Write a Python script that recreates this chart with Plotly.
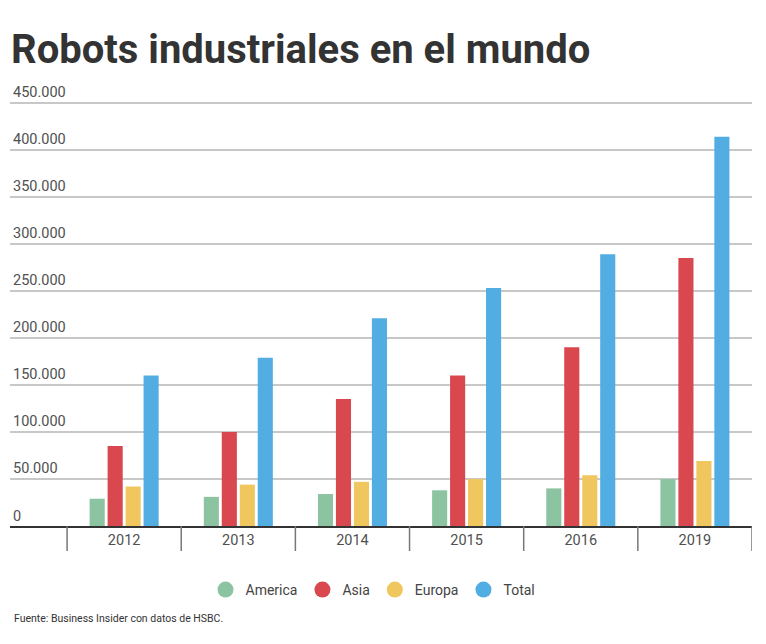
import plotly.graph_objects as go

# Robots industriales por región (unidades)
years = ["2012", "2013", "2014", "2015", "2016", "2019"]
america = [29000, 31000, 34000, 38000, 40000, 50000]
asia = [85000, 100000, 135000, 160000, 190000, 285000]
europa = [42000, 44000, 47000, 50000, 54000, 69000]
total = [160000, 179000, 221000, 253000, 289000, 414000]

series_names = ["America", "Asia", "Europa", "Total"]
series_colors = ["#8cc4a1", "#d9484e", "#f0c75f", "#52ade2"]

y_ticks = [0, 50000, 100000, 150000, 200000, 250000, 300000, 350000, 400000, 450000]
y_max = 452000

TITLE = "Robots industriales en el mundo"
SOURCE = "Fuente: Business Insider con datos de HSBC."

FONT = "Roboto, 'Open Sans', sans-serif"

M_TOP, M_BOTTOM, M_LEFT, M_RIGHT = 101, 118, 10, 14
W, H = 766, 644
plot_h = H - M_TOP - M_BOTTOM
plot_w = W - M_LEFT - M_RIGHT
base_y = H - M_BOTTOM  # pixel row of the zero line

fig = go.Figure()

for name, vals, color in zip(series_names, [america, asia, europa, total], series_colors):
    fig.add_trace(go.Bar(
        x=years, y=vals, name=name, marker_color=color,
        marker_line_width=0, showlegend=False,
    ))

# circular legend markers
for name, color in zip(series_names, series_colors):
    fig.add_trace(go.Scatter(
        x=[None], y=[None], mode="markers", name=name,
        marker=dict(symbol="circle", size=17, color=color),
    ))


def fmt(v):
    return f"{v:,}".replace(",", ".")


# y tick labels sit above their grid lines
annotations = []
for v in y_ticks:
    annotations.append(dict(
        x=0, xref="paper", y=v, yref="y", text=fmt(v),
        xanchor="left", yanchor="middle", yshift=10, xshift=1,
        showarrow=False, font=dict(family=FONT, size=14.5, color="#505050"),
    ))

annotations.append(dict(
    x=(12 - M_LEFT) / plot_w, xref="paper",
    y=(base_y - 618) / plot_h, yref="paper",
    text=SOURCE, xanchor="left", yanchor="middle", showarrow=False,
    font=dict(family=FONT, size=10.5, color="#333333"),
))

# category separators under the axis
shapes = []
for i in range(len(years) + 1):
    shapes.append(dict(
        type="line", xref="x", yref="paper",
        x0=i - 0.5, x1=i - 0.5, y0=0, y1=-25 / plot_h,
        line=dict(color="#777777", width=1.5),
    ))

fig.update_layout(
    width=W, height=H,
    margin=dict(l=M_LEFT, r=M_RIGHT, t=M_TOP, b=M_BOTTOM),
    paper_bgcolor="white", plot_bgcolor="white",
    barmode="group", bargap=0.37, bargroupgap=0.16,
    title=dict(
        text=f"<b>{TITLE}</b>", x=11 / W, xanchor="left", xref="container",
        y=1 - 49 / H, yanchor="middle", yref="container",
        font=dict(family=FONT, size=40, color="#333333"),
    ),
    xaxis=dict(
        type="category", range=[-1, 5.5], showgrid=False,
        showline=True, linecolor="#333333", linewidth=2,
        ticks="", tickfont=dict(family=FONT, size=14.5, color="#505050"),
        fixedrange=True,
    ),
    yaxis=dict(
        range=[0, y_max], tickvals=y_ticks, showticklabels=False,
        showgrid=True, gridcolor="#c8c8c8", gridwidth=1.5,
        zeroline=False, ticks="", fixedrange=True,
    ),
    legend=dict(
        orientation="h", x=0.5 - 8 / plot_w, xanchor="center",
        y=(base_y - 590) / plot_h, yanchor="middle",
        font=dict(family=FONT, size=14, color="#444444"),
        itemclick=False,
    ),
    annotations=annotations,
    shapes=shapes,
    showlegend=True,
)

fig.write_html("out.html")
